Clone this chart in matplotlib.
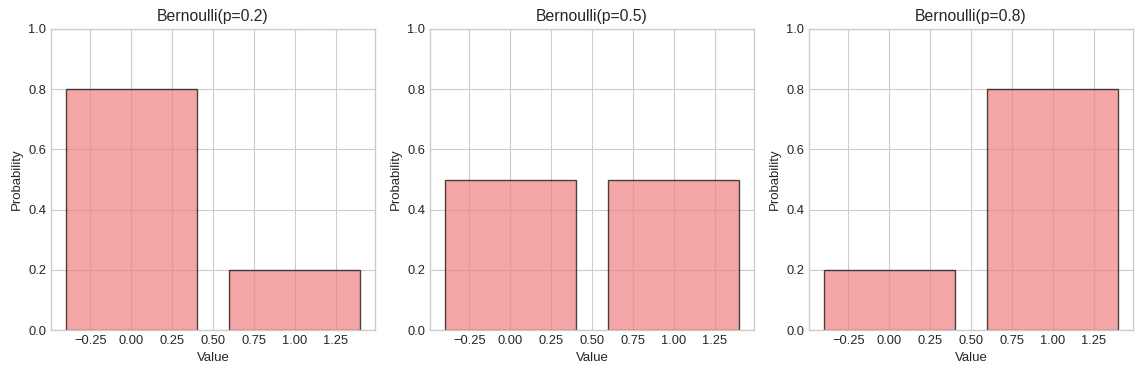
import matplotlib
matplotlib.use("Agg")
import matplotlib.pyplot as plt
from matplotlib.ticker import MultipleLocator

plt.style.use("seaborn-v0_8-whitegrid")
plt.rcParams.update({"xtick.labelsize": 9.3, "ytick.labelsize": 9.3,
                     "axes.labelsize": 9.5, "axes.titlesize": 11.3})

values = [0, 1]
p_list = [0.2, 0.5, 0.8]
probs = [[0.8, 0.2], [0.5, 0.5], [0.2, 0.8]]

fig, axes = plt.subplots(1, 3, figsize=(11.42, 3.74), dpi=100)
for ax, p, pr in zip(axes, p_list, probs):
    ax.bar(values, pr, color="lightcoral", alpha=0.7, edgecolor="black", width=0.8)
    ax.set_title(f"Bernoulli(p={p})")
    ax.set_xlabel("Value")
    ax.set_ylabel("Probability")
    ax.set_ylim(0, 1)
    ax.xaxis.set_major_locator(MultipleLocator(0.25))
    for s in ax.spines.values():
        s.set_visible(True)
        s.set_color("#cccccc")
fig.subplots_adjust(left=0.0447, right=0.9921, top=0.9225, bottom=0.1176, wspace=0.17)
fig.savefig("out.png", dpi=100)
